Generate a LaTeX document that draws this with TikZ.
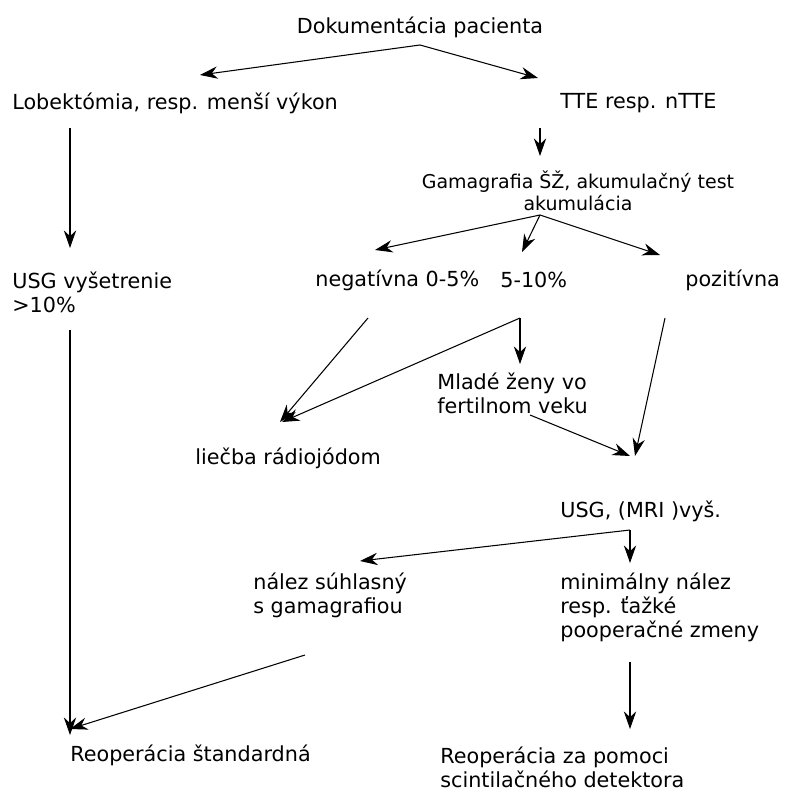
\documentclass[tikz,border=0pt]{standalone}
\usepackage{fontspec}
\setmainfont{DejaVu Sans}
\usetikzlibrary{arrows.meta}
\tikzset{
  txt/.style={inner sep=0pt, anchor=west, align=left, font=\fontsize{11.8}{13.6}\selectfont},
  arr/.style={-{Stealth[length=10pt,width=7pt]}, line width=0.6pt}
}
\begin{document}
\begin{tikzpicture}[x=0.02cm,y=-0.02cm]
  \useasboundingbox (0,0) rectangle (792,800);
  % Texts
  \node[txt, anchor=center] (doc) at (420,27) {Dokumentácia pacienta};
  \node[txt] (lob) at (12,103) {Lobektómia, resp. menší výkon};
  \node[txt] (tte) at (560,103) {TTE resp. nTTE};
  \node[txt, anchor=center, align=center, font=\fontsize{10.8}{12.5}\selectfont] (gam) at (578,191) {Gamagrafia ŠŽ, akumulačný test\\akumulácia};
  \node[txt, anchor=north west] (usg1) at (12,272) {USG vyšetrenie\\>10\%};
  \node[txt] (neg) at (315,280) {negatívna 0-5\%};
  \node[txt] (mid) at (500,280) {5-10\%};
  \node[txt] (poz) at (685,280) {pozitívna};
  \node[txt, anchor=north west] (mlade) at (437,373) {Mladé ženy vo\\fertilnom veku};
  \node[txt] (liecba) at (195,458) {liečba rádiojódom};
  \node[txt] (usg2) at (560,511) {USG, (MRI )vyš.};
  \node[txt, anchor=north west] (nalez) at (253,573) {nález súhlasný\\s gamagrafiou};
  \node[txt, anchor=north west] (minim) at (560,573) {minimálny nález\\resp. ťažké\\pooperačné zmeny};
  \node[txt] (reop1) at (70,755) {Reoperácia štandardná};
  \node[txt, anchor=north west] (reop2) at (440,747) {Reoperácia za pomoci\\scintilačného detektora};

  % Connector ends
  \coordinate (d0) at (420,45);
  \coordinate (g0) at (540,215);
  \coordinate (n0) at (368,318);
  \coordinate (m0) at (520,318);
  \coordinate (u0) at (630,530);
  \coordinate (s0) at (305,655);

  % Arrows
  \draw[arr] (d0) -- (200,75);
  \draw[arr] (d0) -- (538,78);
  \draw[arr] (70,128) -- (70,248);
  \draw[arr] (540,128) -- (540,156);
  \draw[arr] (g0) -- (375,250);
  \draw[arr] (g0) -- (522,252);
  \draw[arr] (g0) -- (660,255);
  \draw[arr] (70,330) -- (70,735);
  \draw[arr] (n0) -- (280,422);
  \draw[arr] (m0) -- (282,422);
  \draw[arr] (m0) -- (520,364);
  \draw[arr] (665,318) -- (635,456);
  \draw[arr] (530,415) -- (630,456);
  \draw[arr] (u0) -- (360,561);
  \draw[arr] (u0) -- (630,563);
  \draw[arr] (s0) -- (70,729);
  \draw[arr] (630,662) -- (630,729);
\end{tikzpicture}
\end{document}
